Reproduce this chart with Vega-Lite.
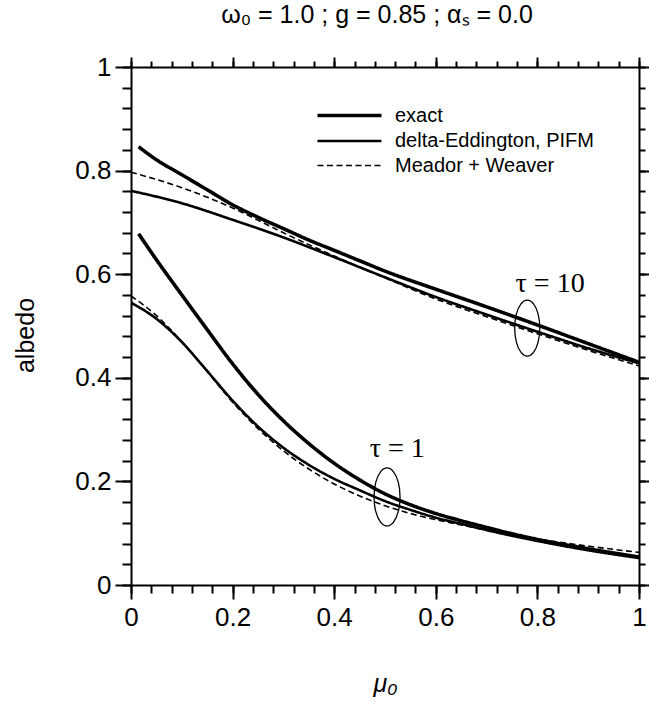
{
  "$schema": "https://vega.github.io/schema/vega-lite/v6.json",
  "width": 508,
  "height": 518,
  "autosize": {"type": "none"},
  "padding": {"left": 131, "top": 67, "right": 10, "bottom": 120},
  "background": "white",
  "title": {"text": "ω₀ = 1.0 ; g = 0.85 ; αₛ = 0.0", "font": "Liberation Sans", "fontSize": 25, "fontWeight": "normal", "color": "black", "frame": "group", "anchor": "middle", "offset": 26, "dx": -8},
  "config": {
    "view": {"stroke": null},
    "axis": {"grid": false, "domainColor": "black", "domainWidth": 2, "tickColor": "black", "tickWidth": 2, "labelFont": "Liberation Sans", "labelFontSize": 26, "labelColor": "black", "titleFont": "Liberation Sans", "titleFontSize": 25, "titleFontWeight": "normal", "titleColor": "black", "labelFlush": false, "labelOverlap": false},
    "legend": {"padding": 0}
  },
  "datasets": {
    "curves": [
      {"mu": 0.015, "albedo": 0.846, "method": "exact", "tau": "10"},
      {"mu": 0.05, "albedo": 0.821, "method": "exact", "tau": "10"},
      {"mu": 0.1, "albedo": 0.792, "method": "exact", "tau": "10"},
      {"mu": 0.15, "albedo": 0.763, "method": "exact", "tau": "10"},
      {"mu": 0.2, "albedo": 0.734, "method": "exact", "tau": "10"},
      {"mu": 0.25, "albedo": 0.71, "method": "exact", "tau": "10"},
      {"mu": 0.3, "albedo": 0.688, "method": "exact", "tau": "10"},
      {"mu": 0.35, "albedo": 0.666, "method": "exact", "tau": "10"},
      {"mu": 0.4, "albedo": 0.646, "method": "exact", "tau": "10"},
      {"mu": 0.45, "albedo": 0.626, "method": "exact", "tau": "10"},
      {"mu": 0.5, "albedo": 0.606, "method": "exact", "tau": "10"},
      {"mu": 0.6, "albedo": 0.571, "method": "exact", "tau": "10"},
      {"mu": 0.7, "albedo": 0.537, "method": "exact", "tau": "10"},
      {"mu": 0.8, "albedo": 0.502, "method": "exact", "tau": "10"},
      {"mu": 0.9, "albedo": 0.466, "method": "exact", "tau": "10"},
      {"mu": 1.0, "albedo": 0.43, "method": "exact", "tau": "10"},
      {"mu": 0.0, "albedo": 0.761, "method": "delta-Eddington, PIFM", "tau": "10"},
      {"mu": 0.1, "albedo": 0.737, "method": "delta-Eddington, PIFM", "tau": "10"},
      {"mu": 0.2, "albedo": 0.705, "method": "delta-Eddington, PIFM", "tau": "10"},
      {"mu": 0.3, "albedo": 0.671, "method": "delta-Eddington, PIFM", "tau": "10"},
      {"mu": 0.4, "albedo": 0.633, "method": "delta-Eddington, PIFM", "tau": "10"},
      {"mu": 0.5, "albedo": 0.594, "method": "delta-Eddington, PIFM", "tau": "10"},
      {"mu": 0.6, "albedo": 0.556, "method": "delta-Eddington, PIFM", "tau": "10"},
      {"mu": 0.7, "albedo": 0.522, "method": "delta-Eddington, PIFM", "tau": "10"},
      {"mu": 0.8, "albedo": 0.489, "method": "delta-Eddington, PIFM", "tau": "10"},
      {"mu": 0.9, "albedo": 0.457, "method": "delta-Eddington, PIFM", "tau": "10"},
      {"mu": 1.0, "albedo": 0.428, "method": "delta-Eddington, PIFM", "tau": "10"},
      {"mu": 0.0, "albedo": 0.797, "method": "Meador + Weaver", "tau": "10"},
      {"mu": 0.1, "albedo": 0.767, "method": "Meador + Weaver", "tau": "10"},
      {"mu": 0.2, "albedo": 0.728, "method": "Meador + Weaver", "tau": "10"},
      {"mu": 0.3, "albedo": 0.68, "method": "Meador + Weaver", "tau": "10"},
      {"mu": 0.4, "albedo": 0.635, "method": "Meador + Weaver", "tau": "10"},
      {"mu": 0.5, "albedo": 0.593, "method": "Meador + Weaver", "tau": "10"},
      {"mu": 0.6, "albedo": 0.552, "method": "Meador + Weaver", "tau": "10"},
      {"mu": 0.7, "albedo": 0.518, "method": "Meador + Weaver", "tau": "10"},
      {"mu": 0.8, "albedo": 0.485, "method": "Meador + Weaver", "tau": "10"},
      {"mu": 0.9, "albedo": 0.453, "method": "Meador + Weaver", "tau": "10"},
      {"mu": 1.0, "albedo": 0.423, "method": "Meador + Weaver", "tau": "10"},
      {"mu": 0.015, "albedo": 0.678, "method": "exact", "tau": "1"},
      {"mu": 0.05, "albedo": 0.628, "method": "exact", "tau": "1"},
      {"mu": 0.1, "albedo": 0.56, "method": "exact", "tau": "1"},
      {"mu": 0.15, "albedo": 0.493, "method": "exact", "tau": "1"},
      {"mu": 0.2, "albedo": 0.427, "method": "exact", "tau": "1"},
      {"mu": 0.25, "albedo": 0.368, "method": "exact", "tau": "1"},
      {"mu": 0.3, "albedo": 0.317, "method": "exact", "tau": "1"},
      {"mu": 0.35, "albedo": 0.273, "method": "exact", "tau": "1"},
      {"mu": 0.4, "albedo": 0.235, "method": "exact", "tau": "1"},
      {"mu": 0.45, "albedo": 0.203, "method": "exact", "tau": "1"},
      {"mu": 0.5, "albedo": 0.176, "method": "exact", "tau": "1"},
      {"mu": 0.55, "albedo": 0.155, "method": "exact", "tau": "1"},
      {"mu": 0.6, "albedo": 0.138, "method": "exact", "tau": "1"},
      {"mu": 0.65, "albedo": 0.124, "method": "exact", "tau": "1"},
      {"mu": 0.7, "albedo": 0.111, "method": "exact", "tau": "1"},
      {"mu": 0.8, "albedo": 0.088, "method": "exact", "tau": "1"},
      {"mu": 0.9, "albedo": 0.07, "method": "exact", "tau": "1"},
      {"mu": 1.0, "albedo": 0.054, "method": "exact", "tau": "1"},
      {"mu": 0.0, "albedo": 0.545, "method": "delta-Eddington, PIFM", "tau": "1"},
      {"mu": 0.05, "albedo": 0.514, "method": "delta-Eddington, PIFM", "tau": "1"},
      {"mu": 0.1, "albedo": 0.469, "method": "delta-Eddington, PIFM", "tau": "1"},
      {"mu": 0.15, "albedo": 0.413, "method": "delta-Eddington, PIFM", "tau": "1"},
      {"mu": 0.2, "albedo": 0.356, "method": "delta-Eddington, PIFM", "tau": "1"},
      {"mu": 0.25, "albedo": 0.306, "method": "delta-Eddington, PIFM", "tau": "1"},
      {"mu": 0.3, "albedo": 0.265, "method": "delta-Eddington, PIFM", "tau": "1"},
      {"mu": 0.35, "albedo": 0.232, "method": "delta-Eddington, PIFM", "tau": "1"},
      {"mu": 0.4, "albedo": 0.205, "method": "delta-Eddington, PIFM", "tau": "1"},
      {"mu": 0.45, "albedo": 0.183, "method": "delta-Eddington, PIFM", "tau": "1"},
      {"mu": 0.5, "albedo": 0.162, "method": "delta-Eddington, PIFM", "tau": "1"},
      {"mu": 0.55, "albedo": 0.145, "method": "delta-Eddington, PIFM", "tau": "1"},
      {"mu": 0.6, "albedo": 0.13, "method": "delta-Eddington, PIFM", "tau": "1"},
      {"mu": 0.65, "albedo": 0.118, "method": "delta-Eddington, PIFM", "tau": "1"},
      {"mu": 0.7, "albedo": 0.106, "method": "delta-Eddington, PIFM", "tau": "1"},
      {"mu": 0.8, "albedo": 0.085, "method": "delta-Eddington, PIFM", "tau": "1"},
      {"mu": 0.9, "albedo": 0.067, "method": "delta-Eddington, PIFM", "tau": "1"},
      {"mu": 1.0, "albedo": 0.052, "method": "delta-Eddington, PIFM", "tau": "1"},
      {"mu": 0.0, "albedo": 0.558, "method": "Meador + Weaver", "tau": "1"},
      {"mu": 0.05, "albedo": 0.52, "method": "Meador + Weaver", "tau": "1"},
      {"mu": 0.1, "albedo": 0.47, "method": "Meador + Weaver", "tau": "1"},
      {"mu": 0.15, "albedo": 0.412, "method": "Meador + Weaver", "tau": "1"},
      {"mu": 0.2, "albedo": 0.353, "method": "Meador + Weaver", "tau": "1"},
      {"mu": 0.25, "albedo": 0.302, "method": "Meador + Weaver", "tau": "1"},
      {"mu": 0.3, "albedo": 0.259, "method": "Meador + Weaver", "tau": "1"},
      {"mu": 0.35, "albedo": 0.224, "method": "Meador + Weaver", "tau": "1"},
      {"mu": 0.4, "albedo": 0.195, "method": "Meador + Weaver", "tau": "1"},
      {"mu": 0.45, "albedo": 0.172, "method": "Meador + Weaver", "tau": "1"},
      {"mu": 0.5, "albedo": 0.153, "method": "Meador + Weaver", "tau": "1"},
      {"mu": 0.55, "albedo": 0.138, "method": "Meador + Weaver", "tau": "1"},
      {"mu": 0.6, "albedo": 0.126, "method": "Meador + Weaver", "tau": "1"},
      {"mu": 0.65, "albedo": 0.116, "method": "Meador + Weaver", "tau": "1"},
      {"mu": 0.7, "albedo": 0.106, "method": "Meador + Weaver", "tau": "1"},
      {"mu": 0.8, "albedo": 0.089, "method": "Meador + Weaver", "tau": "1"},
      {"mu": 0.9, "albedo": 0.075, "method": "Meador + Weaver", "tau": "1"},
      {"mu": 1.0, "albedo": 0.063, "method": "Meador + Weaver", "tau": "1"}
    ],
    "ellipses": [
      {"tau": "1", "i": 0, "x": 0.5296, "y": 0.170},
      {"tau": "1", "i": 1, "x": 0.5262, "y": 0.198},
      {"tau": "1", "i": 2, "x": 0.5168, "y": 0.2185},
      {"tau": "1", "i": 3, "x": 0.504, "y": 0.226},
      {"tau": "1", "i": 4, "x": 0.4912, "y": 0.2185},
      {"tau": "1", "i": 5, "x": 0.4818, "y": 0.198},
      {"tau": "1", "i": 6, "x": 0.4784, "y": 0.170},
      {"tau": "1", "i": 7, "x": 0.4818, "y": 0.142},
      {"tau": "1", "i": 8, "x": 0.4912, "y": 0.1215},
      {"tau": "1", "i": 9, "x": 0.504, "y": 0.114},
      {"tau": "1", "i": 10, "x": 0.5168, "y": 0.1215},
      {"tau": "1", "i": 11, "x": 0.5262, "y": 0.142},
      {"tau": "10", "i": 0, "x": 0.8047, "y": 0.496},
      {"tau": "10", "i": 1, "x": 0.8014, "y": 0.523},
      {"tau": "10", "i": 2, "x": 0.7924, "y": 0.5428},
      {"tau": "10", "i": 3, "x": 0.78, "y": 0.550},
      {"tau": "10", "i": 4, "x": 0.7677, "y": 0.5428},
      {"tau": "10", "i": 5, "x": 0.7586, "y": 0.523},
      {"tau": "10", "i": 6, "x": 0.7553, "y": 0.496},
      {"tau": "10", "i": 7, "x": 0.7586, "y": 0.469},
      {"tau": "10", "i": 8, "x": 0.7677, "y": 0.4492},
      {"tau": "10", "i": 9, "x": 0.78, "y": 0.442},
      {"tau": "10", "i": 10, "x": 0.7924, "y": 0.4492},
      {"tau": "10", "i": 11, "x": 0.8014, "y": 0.469}
    ],
    "labels": [
      {"x": 0.825, "y": 0.566, "text": "τ = 10"},
      {"x": 0.524, "y": 0.247, "text": "τ = 1"}
    ]
  },
  "layer": [
    {
      "data": {"name": "curves"},
      "mark": {"type": "line", "interpolate": "monotone", "color": "black", "clip": true},
      "encoding": {
        "x": {"field": "mu", "type": "quantitative", "scale": {"domain": [0, 1], "nice": false, "zero": false},
          "axis": {"orient": "bottom", "values": [0, 0.2, 0.4, 0.6, 0.8, 1], "format": ".1~f", "tickSize": 14, "labelPadding": 5, "title": "μ₀", "titleFontStyle": "italic", "titleY": 98, "titleBaseline": "middle"}},
        "y": {"field": "albedo", "type": "quantitative", "scale": {"domain": [0, 1], "nice": false, "zero": false},
          "axis": {"orient": "left", "values": [0, 0.2, 0.4, 0.6, 0.8, 1], "format": ".1~f", "tickSize": 16, "labelPadding": 4, "title": "albedo", "titleX": -106, "titleY": 268, "titleBaseline": "middle", "titleAlign": "center", "titleAngle": -90}},
        "detail": {"field": "tau", "type": "nominal"},
        "strokeDash": {"field": "method", "type": "nominal",
          "scale": {"domain": ["exact", "delta-Eddington, PIFM", "Meador + Weaver"], "range": [[1, 0], [1, 0], [6, 3.5]]},
          "legend": {"title": null, "orient": "none", "legendX": 206, "legendY": 36, "symbolType": "M-3,0H3", "symbolSize": 455, "symbolFillColor": "transparent", "symbolStrokeColor": "black", "labelFontSize": 20, "labelFont": "Liberation Sans", "labelColor": "black", "labelOffset": 33, "labelLimit": 0, "rowPadding": 3}},
        "strokeWidth": {"field": "method", "type": "nominal",
          "scale": {"domain": ["exact", "delta-Eddington, PIFM", "Meador + Weaver"], "range": [3.6, 1.6, 1.6]},
          "legend": {"title": null, "orient": "none", "legendX": 206, "legendY": 36, "symbolType": "M-3,0H3", "symbolSize": 455, "symbolFillColor": "transparent", "symbolStrokeColor": "black", "labelFontSize": 20, "labelFont": "Liberation Sans", "labelColor": "black", "labelOffset": 33, "labelLimit": 0, "rowPadding": 3}}
      }
    },
    {
      "data": {"name": "ellipses"},
      "mark": {"type": "line", "interpolate": "cardinal-closed", "color": "black", "strokeWidth": 1.3},
      "encoding": {
        "x": {"field": "x", "type": "quantitative", "scale": {"domain": [0, 1], "nice": false, "zero": false},
          "axis": {"orient": "bottom", "values": [0, 0.04, 0.08, 0.12, 0.16, 0.2, 0.24, 0.28, 0.32, 0.36, 0.4, 0.44, 0.48, 0.52, 0.56, 0.6, 0.64, 0.68, 0.72, 0.76, 0.8, 0.84, 0.88, 0.92, 0.96, 1], "tickSize": 8, "labels": false, "domain": false, "title": null}},
        "y": {"field": "y", "type": "quantitative", "scale": {"domain": [0, 1], "nice": false, "zero": false},
          "axis": {"orient": "left", "values": [0, 0.04, 0.08, 0.12, 0.16, 0.2, 0.24, 0.28, 0.32, 0.36, 0.4, 0.44, 0.48, 0.52, 0.56, 0.6, 0.64, 0.68, 0.72, 0.76, 0.8, 0.84, 0.88, 0.92, 0.96, 1], "tickSize": 9, "labels": false, "domain": false, "title": null}},
        "order": {"field": "i", "type": "quantitative"},
        "detail": {"field": "tau", "type": "nominal"}
      }
    },
    {
      "data": {"name": "labels"},
      "mark": {"type": "text", "font": "Liberation Serif", "fontSize": 28, "align": "center", "baseline": "alphabetic", "color": "black"},
      "encoding": {
        "x": {"field": "x", "type": "quantitative", "scale": {"domain": [0, 1], "nice": false, "zero": false},
          "axis": {"orient": "top", "values": [0, 0.2, 0.4, 0.6, 0.8, 1], "tickSize": 10, "labels": false, "title": null}},
        "y": {"field": "y", "type": "quantitative", "scale": {"domain": [0, 1], "nice": false, "zero": false},
          "axis": {"orient": "right", "values": [0, 0.2, 0.4, 0.6, 0.8, 1], "tickSize": 10, "labels": false, "title": null}},
        "text": {"field": "text", "type": "nominal"}
      }
    },
    {
      "data": {"name": "labels"},
      "mark": {"type": "point", "opacity": 0},
      "encoding": {
        "x": {"field": "x", "type": "quantitative", "scale": {"domain": [0, 1], "nice": false, "zero": false},
          "axis": {"orient": "top", "values": [0, 0.04, 0.08, 0.12, 0.16, 0.2, 0.24, 0.28, 0.32, 0.36, 0.4, 0.44, 0.48, 0.52, 0.56, 0.6, 0.64, 0.68, 0.72, 0.76, 0.8, 0.84, 0.88, 0.92, 0.96, 1], "tickSize": 6, "labels": false, "domain": false, "title": null}},
        "y": {"field": "y", "type": "quantitative", "scale": {"domain": [0, 1], "nice": false, "zero": false},
          "axis": {"orient": "right", "values": [0, 0.04, 0.08, 0.12, 0.16, 0.2, 0.24, 0.28, 0.32, 0.36, 0.4, 0.44, 0.48, 0.52, 0.56, 0.6, 0.64, 0.68, 0.72, 0.76, 0.8, 0.84, 0.88, 0.92, 0.96, 1], "tickSize": 6, "labels": false, "domain": false, "title": null}}
      }
    }
  ],
  "resolve": {"axis": {"x": "independent", "y": "independent"}}
}
